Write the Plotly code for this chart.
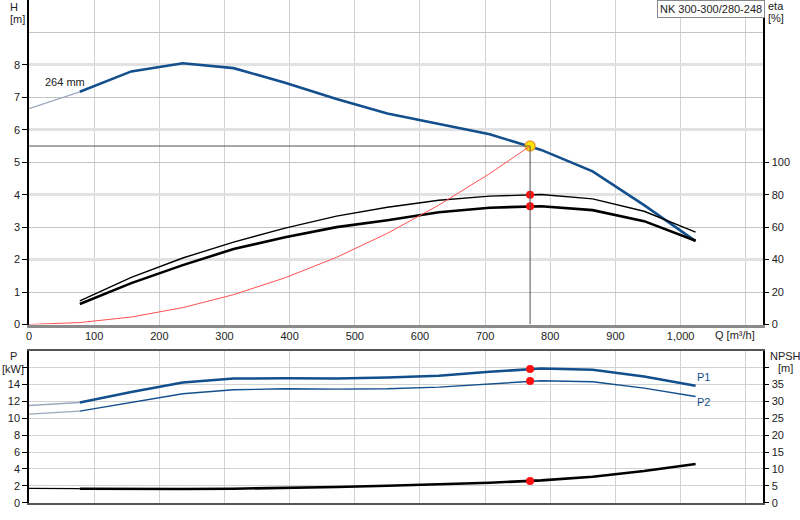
import plotly.graph_objects as go

# ---------------- data ----------------
q_pts = [78, 157, 236, 314, 393, 472, 550, 629, 707, 786, 865, 944, 1023]
h_vals = [7.17, 7.80, 8.05, 7.90, 7.45, 6.95, 6.50, 6.17, 5.86, 5.38, 4.72, 3.68, 2.57]
h_ext_q = [0, 78]
h_ext = [6.65, 7.17]

eta_pump = [14.5, 29.0, 41.0, 50.8, 59.4, 66.8, 72.3, 76.6, 79.1, 80.1, 77.4, 69.8, 56.9]
eta_total = [12.6, 25.5, 36.6, 46.5, 53.8, 60.0, 64.3, 69.2, 72.0, 72.9, 70.5, 63.7, 51.6]

sys_q = [0, 78, 157, 236, 314, 393, 472, 550, 629, 707, 769]
sys_h = [0, 0.06, 0.23, 0.52, 0.92, 1.44, 2.07, 2.81, 3.68, 4.65, 5.50]

p1_vals = [11.86, 13.1, 14.23, 14.7, 14.73, 14.7, 14.83, 15.03, 15.5, 15.9, 15.74, 14.95, 13.84]
p2_vals = [10.84, 11.9, 12.9, 13.37, 13.49, 13.45, 13.5, 13.69, 14.08, 14.44, 14.32, 13.57, 12.57]
p1_ext = [11.5, 11.86]
p2_ext = [10.48, 10.84]

npsh_vals = [4.15, 4.0, 4.05, 4.15, 4.35, 4.64, 5.03, 5.44, 5.92, 6.6, 7.7, 9.38, 11.45]
npsh_ext = [4.26, 4.15]

duty_q = 769
duty_h = 5.5
duty_eta_pump = 80.0
duty_eta_total = 72.9
duty_p1 = 15.82
duty_p2 = 14.4
duty_npsh = 6.42

h_ticks = [0, 1, 2, 3, 4, 5, 6, 7, 8]
eta_ticks = [0, 20, 40, 60, 80, 100]
q_ticks = [0, 100, 200, 300, 400, 500, 600, 700, 800, 900, 1000]
q_labels = ["0", "100", "200", "300", "400", "500", "600", "700", "800", "900", "1,000"]
p_ticks = [0, 2, 4, 6, 8, 10, 12, 14, 16]
npsh_ticks = [0, 5, 10, 15, 20, 25, 30, 35, 40]

title_text = "NK 300-300/280-248"
diam_text = "264 mm"

# ---------------- style ----------------
BLUE = "#134f8c"
THIN_BLUE = "#9aa8bc"
FONT = "Liberation Sans"
GRID = "#d2d2d2"
QMAX = 1126

fig = go.Figure()

# --- top panel ---
fig.add_trace(go.Scatter(x=h_ext_q, y=h_ext, mode="lines",
                         line=dict(color=THIN_BLUE, width=1.2), xaxis="x", yaxis="y"))
fig.add_trace(go.Scatter(x=q_pts, y=h_vals, mode="lines",
                         line=dict(color=BLUE, width=2.6), xaxis="x", yaxis="y"))
fig.add_trace(go.Scatter(x=sys_q, y=sys_h, mode="lines",
                         line=dict(color="#ff5050", width=1), xaxis="x", yaxis="y6"))
fig.add_trace(go.Scatter(x=[0, duty_q, duty_q], y=[duty_h, duty_h, 0], mode="lines",
                         line=dict(color="#505050", width=1), xaxis="x", yaxis="y5"))
fig.add_trace(go.Scatter(x=q_pts, y=eta_pump, mode="lines",
                         line=dict(color="black", width=1.4), xaxis="x", yaxis="y2"))
fig.add_trace(go.Scatter(x=q_pts, y=eta_total, mode="lines",
                         line=dict(color="black", width=2.6), xaxis="x", yaxis="y2"))
fig.add_trace(go.Scatter(x=[duty_q, duty_q], y=[duty_eta_pump, duty_eta_total], mode="markers",
                         marker=dict(color="#ff1010", size=8), xaxis="x", yaxis="y2"))
fig.add_trace(go.Scatter(x=[duty_q], y=[duty_h], mode="markers",
                         marker=dict(color="#ffe600", size=10, line=dict(color="#f0a030", width=1.5)),
                         xaxis="x", yaxis="y"))

# --- bottom panel ---
fig.add_trace(go.Scatter(x=h_ext_q, y=p1_ext, mode="lines",
                         line=dict(color=THIN_BLUE, width=1.5), xaxis="x2", yaxis="y3"))
fig.add_trace(go.Scatter(x=h_ext_q, y=p2_ext, mode="lines",
                         line=dict(color=THIN_BLUE, width=1.3), xaxis="x2", yaxis="y3"))
fig.add_trace(go.Scatter(x=q_pts, y=p1_vals, mode="lines",
                         line=dict(color=BLUE, width=2.6), xaxis="x2", yaxis="y3"))
fig.add_trace(go.Scatter(x=q_pts, y=p2_vals, mode="lines",
                         line=dict(color=BLUE, width=1.4), xaxis="x2", yaxis="y3"))
fig.add_trace(go.Scatter(x=h_ext_q, y=npsh_ext, mode="lines",
                         line=dict(color="black", width=1.2), xaxis="x2", yaxis="y4"))
fig.add_trace(go.Scatter(x=q_pts, y=npsh_vals, mode="lines",
                         line=dict(color="black", width=2.6), xaxis="x2", yaxis="y4"))
fig.add_trace(go.Scatter(x=[duty_q, duty_q], y=[duty_p1, duty_p2], mode="markers",
                         marker=dict(color="#ff1010", size=8), xaxis="x2", yaxis="y3"))
fig.add_trace(go.Scatter(x=[duty_q], y=[duty_npsh], mode="markers",
                         marker=dict(color="#ff1010", size=8), xaxis="x2", yaxis="y4"))

XL = 29 / 800
XR = 762.7 / 800
TOP_D = [(520 - 324.5) / 520, 1.0]
BOT_D = [(520 - 502.7) / 520, (520 - 350.7) / 520]

tickfont = dict(family=FONT, size=11, color="#222222")

fig.update_layout(
    width=800, height=520,
    margin=dict(l=0, r=0, t=0, b=0, pad=0),
    paper_bgcolor="white", plot_bgcolor="white",
    showlegend=False,
    font=dict(family=FONT, size=11, color="#222222"),
    xaxis=dict(domain=[XL, XR], range=[0, QMAX], anchor="y", automargin=False,
               tickvals=q_ticks, ticktext=q_labels, ticks="", tickfont=tickfont,
               showgrid=True, gridcolor=GRID, gridwidth=1.2,
               minor=dict(tickvals=[1100], showgrid=True, gridcolor=GRID, gridwidth=1.2, ticks=""),
               showline=True, linecolor="#8a8a8a", linewidth=2.5, zeroline=False),
    yaxis=dict(domain=TOP_D, range=[0, 10], anchor="x", automargin=False,
               tickvals=h_ticks, ticks="outside", ticklen=5, tickcolor="black",
               tickfont=tickfont, showgrid=False,
               showline=True, linecolor="black", linewidth=1.5, zeroline=False),
    yaxis2=dict(range=[0, 200], overlaying="y", side="right", anchor="x", automargin=False,
                tickvals=eta_ticks, ticks="outside", ticklen=5, tickcolor="black",
                tickfont=tickfont, showgrid=False,
                showline=True, linecolor="black", linewidth=1.5, zeroline=False),
    yaxis5=dict(range=[0, 10], overlaying="y", anchor="x", tickvals=[1, 3, 5, 7, 9],
                automargin=False,
                showticklabels=False, ticks="", showgrid=True, gridcolor="#c4c4c4",
                gridwidth=1, showline=False, zeroline=False),
    yaxis6=dict(range=[0, 10], overlaying="y", anchor="x", tickvals=[2, 4, 6, 8],
                automargin=False,
                showticklabels=False, ticks="", showgrid=True, gridcolor="#e2e2e2",
                gridwidth=2.5, showline=False, zeroline=False),
    xaxis2=dict(domain=[XL, XR], range=[0, QMAX], anchor="y3", matches="x", automargin=False,
                tickvals=q_ticks + [1100], showticklabels=False, ticks="",
                showgrid=True, gridcolor=GRID, gridwidth=1.2,
                showline=True, linecolor="#555555", linewidth=1.5, mirror=True, zeroline=False),
    yaxis3=dict(domain=BOT_D, range=[0, 18], anchor="x2", automargin=False,
                tickvals=p_ticks, ticktext=[str(v) for v in p_ticks[:-1]] + [""],
                ticks="outside", ticklen=5, tickcolor="black", tickfont=tickfont,
                showgrid=True, gridcolor=GRID, gridwidth=1,
                showline=True, linecolor="black", linewidth=1.5, zeroline=False),
    yaxis4=dict(range=[0, 45], overlaying="y3", side="right", anchor="x2", automargin=False,
                tickvals=npsh_ticks, ticktext=[str(v) for v in npsh_ticks[:-1]] + [""],
                ticks="outside", ticklen=5, tickcolor="black", tickfont=tickfont,
                showgrid=False, showline=True, linecolor="black", linewidth=1.5, zeroline=False),
)

ann = []
def txt(x, y, s, xanchor="center", color="#222222", size=11):
    ann.append(dict(x=x / 800, y=1 - y / 520, xref="paper", yref="paper", text=s,
                    showarrow=False, xanchor=xanchor, yanchor="middle",
                    font=dict(family=FONT, size=size, color=color)))

txt(14, 7, "H")
txt(17, 19, "[m]")
txt(776, 6, "eta")
txt(776, 18, "[%]")
txt(13, 356, "P")
txt(13, 369, "[kW]")
txt(785, 356, "NPSH")
txt(785, 368, "[m]")
txt(757, 335, "Q [m³/h]", xanchor="right")
txt(65, 82, diam_text)
txt(703, 377, "P1", color=BLUE)
txt(703, 402, "P2", color=BLUE)
fig.update_layout(annotations=ann)

fig.add_annotation(x=711 / 800, y=1 - 9 / 520, xref="paper", yref="paper", text=title_text,
                   showarrow=False, xanchor="center", yanchor="middle",
                   font=dict(family=FONT, size=11, color="#222222"),
                   bgcolor="white", bordercolor="#888888", borderwidth=1, borderpad=2)

fig.write_html("out.html", config={"displayModeBar": False},
               post_script="document.body.style.margin='0';document.body.style.padding='0';"
                           "document.body.style.overflow='hidden';")
